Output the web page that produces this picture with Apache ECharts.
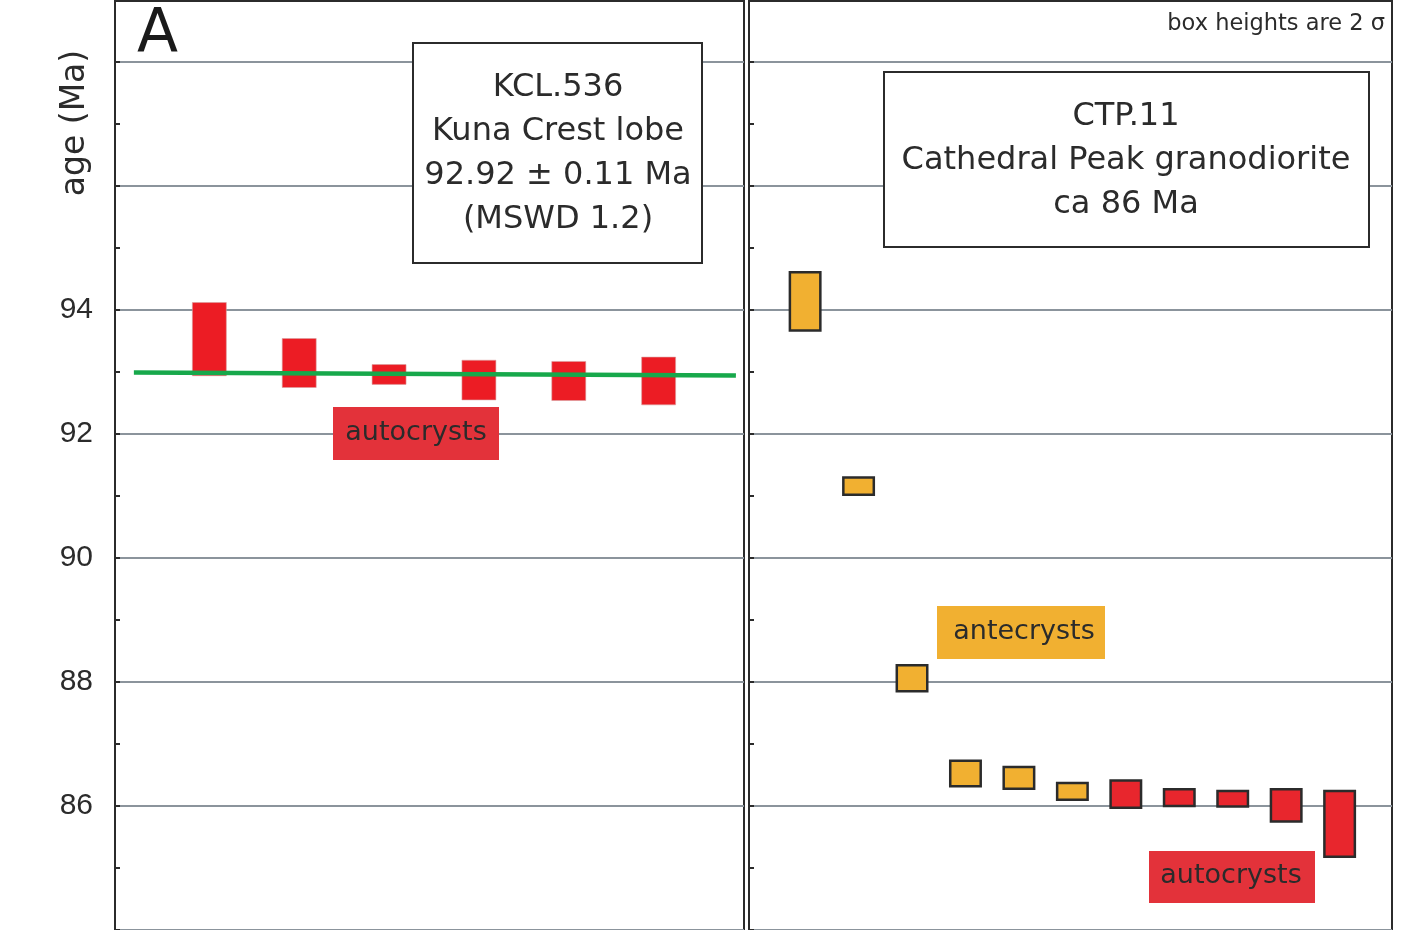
<!DOCTYPE html>
<html>
<head>
<meta charset="utf-8">
<style>
  html, body { margin: 0; padding: 0; background: #ffffff; }
  #chart { width: 1411px; height: 930px; }
</style>
<script src="https://cdn.jsdelivr.net/npm/echarts@6/dist/echarts.min.js"></script>
</head>
<body>
<div id="chart"></div>
<script>
// KCL.536 (Kuna Crest lobe) zircon ages, 2-sigma boxes
const kclPos  = [1, 2, 3, 4, 5, 6];
const kclLow  = [92.94, 92.75, 92.80, 92.55, 92.54, 92.47];
const kclHigh = [94.12, 93.54, 93.12, 93.19, 93.17, 93.24];

// weighted-mean line drawn across the KCL.536 panel
const meanX = [0.16, 6.86];
const meanY = [92.99, 92.945];

// CTP.11 (Cathedral Peak granodiorite) zircon ages, 2-sigma boxes
const ctpPos  = [1, 2, 3, 4, 5, 6, 7, 8, 9, 10, 11];
const ctpLow  = [93.67, 91.02, 87.85, 86.32, 86.28, 86.10, 85.97, 86.00, 85.99, 85.75, 85.18];
const ctpHigh = [94.61, 91.30, 88.27, 86.73, 86.63, 86.37, 86.41, 86.27, 86.24, 86.27, 86.24];
const ctpKind = ['antecryst', 'antecryst', 'antecryst', 'antecryst', 'antecryst', 'antecryst',
                 'autocryst', 'autocryst', 'autocryst', 'autocryst', 'autocryst'];

// age axis tick labels that are printed
const shownTicks = [86, 88, 90, 92, 94];

const FONT = 'DejaVu Sans';
const INK = '#2b2b2b';
const RED = '#ec1c24';
const RED_LABEL = '#e3323a';
const ORANGE = '#f1b031';
const GRID_GRAY = '#8b949c';

const chart = echarts.init(document.getElementById('chart'), null, { renderer: 'canvas' });

function boxRenderer(widthUnits, styleFor) {
  return function (params, api) {
    const x = api.value(0), lo = api.value(1), hi = api.value(2);
    const top = api.coord([x, hi]);
    const bot = api.coord([x, lo]);
    const w = api.size([widthUnits, 0])[0];
    return {
      type: 'rect',
      shape: { x: top[0] - w / 2, y: top[1], width: w, height: bot[1] - top[1] },
      style: styleFor(params.dataIndex)
    };
  };
}

// integer ticks along the panel edge, labels on even ages only
function tickAxis(gridIndex, withLabels) {
  return {
    type: 'value', gridIndex: gridIndex, position: 'left', min: 84, max: 99, interval: 1,
    axisLine: { show: true, onZero: false, lineStyle: { color: INK, width: 2 } },
    axisTick: { show: true, inside: true, length: 5, lineStyle: { color: INK, width: 2 } },
    splitLine: { show: false },
    axisLabel: {
      show: withLabels, margin: 22, fontFamily: 'Liberation Sans', fontSize: 30, color: INK,
      formatter: v => shownTicks.includes(v) ? String(v) : ''
    }
  };
}

// every-2-Ma horizontal rules
function gridAxis(gridIndex) {
  return {
    type: 'value', gridIndex: gridIndex, position: 'left', min: 84, max: 99, interval: 2,
    axisLine: { show: false, onZero: false }, axisTick: { show: false }, axisLabel: { show: false },
    splitLine: { show: true, lineStyle: { color: GRID_GRAY, width: 2 } }
  };
}

const option = {
  animation: false,
  textStyle: { fontFamily: FONT },
  grid: [
    { left: 115, top: 0, width: 629, height: 930, show: true, borderColor: INK, borderWidth: 2, backgroundColor: 'transparent' },
    { left: 749, top: 0, width: 643, height: 930, show: true, borderColor: INK, borderWidth: 2, backgroundColor: 'transparent' }
  ],
  xAxis: [
    { type: 'value', gridIndex: 0, min: -0.05, max: 6.95, show: false, splitLine: { show: false } },
    { type: 'value', gridIndex: 1, min: -0.05, max: 11.98, show: false, splitLine: { show: false } }
  ],
  yAxis: [
    tickAxis(0, true),
    gridAxis(0),
    tickAxis(1, false),
    gridAxis(1)
  ],
  series: [
    {
      type: 'custom', xAxisIndex: 0, yAxisIndex: 0, z: 3,
      renderItem: boxRenderer(0.378, () => ({ fill: RED, stroke: '#d9a0a0', lineWidth: 0.6 })),
      data: kclPos.map((p, i) => [p, kclLow[i], kclHigh[i]])
    },
    {
      type: 'line', xAxisIndex: 0, yAxisIndex: 0, z: 4,
      symbol: 'none', lineStyle: { color: '#17a84b', width: 4.5 },
      data: meanX.map((x, i) => [x, meanY[i]])
    },
    {
      type: 'custom', xAxisIndex: 1, yAxisIndex: 2, z: 3,
      renderItem: boxRenderer(0.57, i => ({
        fill: ctpKind[i] === 'antecryst' ? ORANGE : '#e8262d',
        stroke: INK, lineWidth: 2.5
      })),
      data: ctpPos.map((p, i) => [p, ctpLow[i], ctpHigh[i]])
    }
  ],
  graphic: [
    // dark top edge of both panel frames
    { type: 'line', shape: { x1: 115, y1: 1, x2: 744, y2: 1 }, z: 9, style: { stroke: INK, lineWidth: 2 } },
    { type: 'line', shape: { x1: 749, y1: 1, x2: 1392, y2: 1 }, z: 9, style: { stroke: INK, lineWidth: 2 } },
    // panel letter
    { type: 'text', left: 137, top: 5, z: 10,
      style: { text: 'A', font: '60px "DejaVu Sans"', fill: '#1a1a1a' } },
    // axis title
    { type: 'text', x: 75, y: 123, rotation: Math.PI / 2, z: 10,
      style: { text: 'age (Ma)', font: '33px "DejaVu Sans"', fill: INK, align: 'center', verticalAlign: 'middle' } },
    // note on box heights
    { type: 'text', x: 1385, y: 24, z: 10,
      style: { text: 'box heights are 2 σ', font: '22.5px "DejaVu Sans"', fill: INK, align: 'right', verticalAlign: 'middle' } },
    // KCL.536 sample box
    { type: 'rect', shape: { x: 413, y: 43, width: 289, height: 220 }, z: 10,
      style: { fill: '#ffffff', stroke: INK, lineWidth: 2 } },
    { type: 'text', x: 558, y: 154, z: 11,
      style: { text: 'KCL.536\nKuna Crest lobe\n92.92 ± 0.11 Ma\n(MSWD 1.2)', font: '32px "DejaVu Sans"',
               lineHeight: 44, fill: INK, align: 'center', verticalAlign: 'middle' } },
    // CTP.11 sample box
    { type: 'rect', shape: { x: 884, y: 72, width: 485, height: 175 }, z: 10,
      style: { fill: '#ffffff', stroke: INK, lineWidth: 2 } },
    { type: 'text', x: 1126, y: 161, z: 11,
      style: { text: 'CTP.11\nCathedral Peak granodiorite\nca 86 Ma', font: '32px "DejaVu Sans"',
               lineHeight: 44, fill: INK, align: 'center', verticalAlign: 'middle' } },
    // population labels
    { type: 'rect', shape: { x: 333, y: 407, width: 166, height: 53 }, z: 10, style: { fill: RED_LABEL } },
    { type: 'text', x: 416, y: 433, z: 11,
      style: { text: 'autocrysts', font: '27px "DejaVu Sans"', fill: INK, align: 'center', verticalAlign: 'middle' } },
    { type: 'rect', shape: { x: 937, y: 606, width: 168, height: 53 }, z: 10, style: { fill: ORANGE } },
    { type: 'text', x: 1024, y: 632, z: 11,
      style: { text: 'antecrysts', font: '27px "DejaVu Sans"', fill: INK, align: 'center', verticalAlign: 'middle' } },
    { type: 'rect', shape: { x: 1149, y: 851, width: 166, height: 52 }, z: 10, style: { fill: RED_LABEL } },
    { type: 'text', x: 1231, y: 876, z: 11,
      style: { text: 'autocrysts', font: '27px "DejaVu Sans"', fill: INK, align: 'center', verticalAlign: 'middle' } }
  ]
};

chart.setOption(option);
</script>
</body>
</html>
